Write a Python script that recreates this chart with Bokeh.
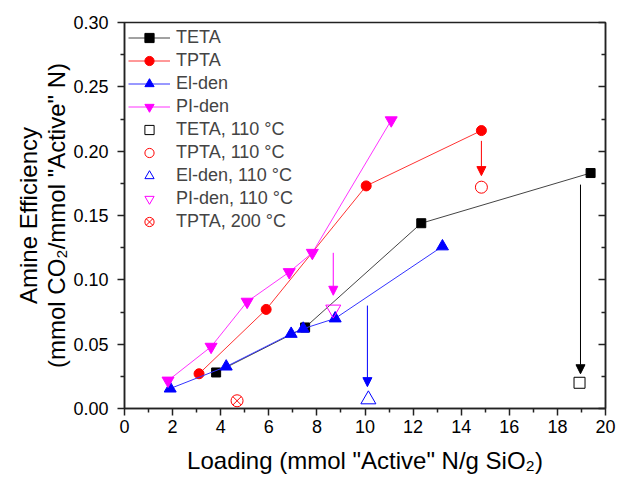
from bokeh.plotting import figure
from bokeh.models import (Range1d, LinearAxis, FixedTicker, Legend, LegendItem,
                          Arrow, NormalHead, PrintfTickFormatter, CustomLabelingPolicy)
from bokeh.embed import file_html
from bokeh.resources import INLINE

# ---- data ----
teta_x = [3.81, 7.51, 12.34, 19.38]
teta_y = [0.028, 0.063, 0.144, 0.183]
tpta_x = [3.10, 5.89, 10.05, 14.84]
tpta_y = [0.027, 0.077, 0.173, 0.216]
elden_x = [1.90, 4.23, 6.93, 7.43, 8.76, 13.22]
elden_y = [0.0155, 0.0326, 0.058, 0.062, 0.070, 0.126]
piden_x = [1.81, 3.60, 5.10, 6.85, 7.81, 11.09]
piden_y = [0.0217, 0.048, 0.083, 0.106, 0.121, 0.224]

teta110_x = [18.92]
teta110_y = [0.020]
tpta110_x = [14.84]
tpta110_y = [0.172]
elden110_x = [10.14]
elden110_y = [0.007]
piden110_x = [8.68]
piden110_y = [0.077]
tpta200_x = [4.68]
tpta200_y = [0.006]

arrow_x = [18.96, 14.84, 10.10, 8.68]
arrow_y_start = [0.174, 0.208, 0.080, 0.121]
arrow_y_end = [0.027, 0.181, 0.017, 0.088]
arrow_colors = ["#000000", "#FF0000", "#0000FF", "#FF00FF"]

x_ticks = [0, 2, 4, 6, 8, 10, 12, 14, 16, 18, 20]
x_minor = [1, 3, 5, 7, 9, 11, 13, 15, 17, 19]
y_ticks = [0.0, 0.05, 0.10, 0.15, 0.20, 0.25, 0.30]
y_minor = [0.025, 0.075, 0.125, 0.175, 0.225, 0.275]

FONT = "Liberation Sans"

p = figure(width=616, height=477, x_range=Range1d(0, 20), y_range=Range1d(0, 0.30),
           output_backend="svg", toolbar_location=None,
           min_border_left=124, min_border_right=11, min_border_top=22, min_border_bottom=69)
p.grid.visible = False
p.outline_line_color = "#222222"
p.outline_line_width = 1.5
p.background_fill_color = "white"

# axes
xa = p.xaxis[0]
xa.ticker = FixedTicker(ticks=x_ticks, minor_ticks=x_minor)
xa.axis_label = 'Loading (mmol "Active" N/g SiO\u2082)'
ya = p.yaxis[0]
ya.ticker = FixedTicker(ticks=y_ticks, minor_ticks=y_minor)
ya.formatter = PrintfTickFormatter(format="%.2f")
ya.axis_label = 'Amine Efficiency\n(mmol CO\u2082/mmol "Active" N)'
for ax in (xa, ya):
    ax.axis_line_width = 1.5
    ax.axis_line_color = "#222222"
    ax.major_tick_line_color = "#222222"
    ax.minor_tick_line_color = "#222222"
    ax.major_tick_line_width = 1.5
    ax.minor_tick_line_width = 1.5
    ax.major_tick_in = 0
    ax.major_tick_out = 7
    ax.minor_tick_in = 0
    ax.minor_tick_out = 4
    ax.major_label_text_font = FONT
    ax.major_label_text_font_size = "18px"
    ax.major_label_text_color = "black"
    ax.axis_label_text_font = FONT
    ax.axis_label_text_font_size = "24px"
    ax.axis_label_text_font_style = "normal"
    ax.axis_label_text_color = "black"
    ax.axis_label_text_line_height = 1.05
xa.major_label_standoff = 4
xa.axis_label_standoff = 11
ya.major_label_standoff = 9
ya.axis_label_standoff = 0

ra = LinearAxis(ticker=FixedTicker(ticks=y_ticks, minor_ticks=y_minor),
                major_label_policy=CustomLabelingPolicy(
                    code="for (const i of indices) { indices.unset(i) }\nreturn indices"),
                major_label_text_font_size="1px",
                axis_line_color="#222222",
                axis_line_width=1.5, major_tick_in=7, major_tick_out=0,
                minor_tick_in=4, minor_tick_out=0, major_tick_line_width=1.5,
                minor_tick_line_width=1.5, major_tick_line_color="#222222",
                minor_tick_line_color="#222222", major_label_standoff=0)
p.add_layout(ra, "right")

# series
series = [
    (teta_x, teta_y, "#000000", "#444444", "square", 9),
    (tpta_x, tpta_y, "#FF0000", "#FF3333", "circle", 10),
    (elden_x, elden_y, "#0000FF", "#3333FF", "triangle", 12),
    (piden_x, piden_y, "#FF00FF", "#FF33FF", "inverted_triangle", 12),
]
names = ["TETA", "TPTA", "El-den", "PI-den"]
items = []
for (xs, ys, c, lc, m, s), n in zip(series, names):
    l = p.line(xs, ys, line_color=lc, line_width=1)
    sc = p.scatter(xs, ys, marker=m, size=s, fill_color=c, line_color=c)
    items.append(LegendItem(label=n, renderers=[l, sc]))

opens = [
    (teta110_x, teta110_y, "#000000", "square", 11, "TETA, 110 \u00b0C"),
    (tpta110_x, tpta110_y, "#FF0000", "circle", 12, "TPTA, 110 \u00b0C"),
    (elden110_x, elden110_y, "#0000FF", "triangle", 15, "El-den, 110 \u00b0C"),
    (piden110_x, piden110_y, "#FF00FF", "inverted_triangle", 15, "PI-den, 110 \u00b0C"),
    (tpta200_x, tpta200_y, "#FF0000", "circle_x", 12, "TPTA, 200 \u00b0C"),
]
for xs, ys, c, m, s, lab in opens:
    sc = p.scatter(xs, ys, marker=m, size=s, fill_color=None, line_color=c, line_width=1)
    items.append(LegendItem(label=lab, renderers=[sc]))

for xa_, y0, y1, c in zip(arrow_x, arrow_y_start, arrow_y_end, arrow_colors):
    p.add_layout(Arrow(end=NormalHead(size=9, fill_color=c, line_color=c, line_width=1),
                       x_start=xa_, y_start=y0, x_end=xa_, y_end=y1,
                       line_color=c, line_width=1))

legend = Legend(items=items, location="top_left", margin=4, padding=0, spacing=0,
                glyph_width=42, glyph_height=23, label_height=23, label_standoff=6,
                label_text_font=FONT, label_text_font_size="18px",
                border_line_color=None, background_fill_alpha=0)
p.add_layout(legend)

open("out.html", "w").write(file_html(p, INLINE))
